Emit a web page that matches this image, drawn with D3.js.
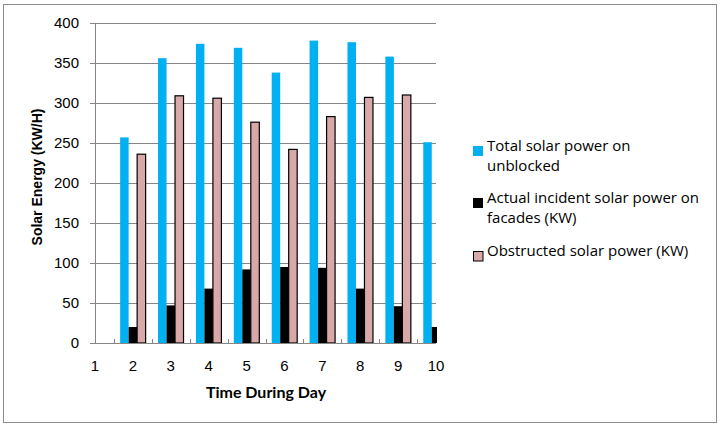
<!DOCTYPE html>
<html>
<head>
<meta charset="utf-8">
<script src="https://cdn.jsdelivr.net/npm/d3@7"></script>
<style>
  body { margin: 0; background: #fff; }
  text { font-family: Arial, "Liberation Sans", sans-serif; }
</style>
</head>
<body>
<div id="chart"></div>
<script>
// data
const categories = [1, 2, 3, 4, 5, 6, 7, 8, 9, 10];
const totalPower = [null, 257, 356, 374, 369, 338, 378, 376, 358, 251];
const actualPower = [null, 20, 47, 68, 92, 95, 94, 68, 46, 20];
const obstructedPower = [null, 236, 309, 306, 276, 242, 283, 307, 310, null];
const yTicks = [0, 50, 100, 150, 200, 250, 300, 350, 400];

const seriesNames = ['total', 'actual', 'obstructed'];
const legendLines = [
  ['Total solar power on', 'unblocked'],
  ['Actual incident solar power on', 'facades (KW)'],
  ['Obstructed solar power  (KW)']
];
const colors = { total: '#00b0f0', actual: '#000000', obstructed: '#d9a9a9' };

const width = 722, height = 429;
const plotLeft = 95, plotRight = 436, plotTop = 23, plotBottom = 343;

const svg = d3.select('#chart').append('svg')
  .attr('width', width)
  .attr('height', height);

// outer frame
svg.append('rect')
  .attr('x', 3.5).attr('y', 4.5)
  .attr('width', 713).attr('height', 418)
  .attr('fill', 'none').attr('stroke', '#8c8c8c');

// first category sits right on the axis, last on the right edge
const step = (plotRight - plotLeft) / (categories.length - 1);
const x = d3.scaleBand()
  .domain(categories)
  .range([plotLeft - step / 2, plotRight + step / 2])
  .padding(0);

const xs = d3.scaleBand()
  .domain(seriesNames)
  .range([0, step])
  .paddingInner(0)
  .paddingOuter(0.73);

const y = d3.scaleLinear().domain([0, 400]).range([plotBottom, plotTop]);

// gridlines + y ticks
svg.append('g')
  .selectAll('line')
  .data(yTicks)
  .enter()
  .append('line')
  .attr('x1', plotLeft - 5)
  .attr('x2', plotRight)
  .attr('y1', d => Math.round(y(d)) + 0.5)
  .attr('y2', d => Math.round(y(d)) + 0.5)
  .attr('stroke', '#868686');

svg.append('g')
  .selectAll('text')
  .data(yTicks)
  .enter()
  .append('text')
  .attr('x', 79)
  .attr('y', d => y(d))
  .attr('dy', '0.36em')
  .attr('text-anchor', 'end')
  .style('font-size', '15px')
  .text(d => d);

// bars, clipped to the plot area
svg.append('clipPath').attr('id', 'plotClip')
  .append('rect')
  .attr('x', plotLeft).attr('y', 0)
  .attr('width', plotRight - plotLeft + 1).attr('height', plotBottom + 1);

const rows = categories.map((c, i) => ({
  cat: c,
  total: totalPower[i],
  actual: actualPower[i],
  obstructed: obstructedPower[i]
}));

const bars = svg.append('g').attr('clip-path', 'url(#plotClip)');

bars.selectAll('g')
  .data(rows)
  .enter()
  .append('g')
  .attr('transform', d => `translate(${x(d.cat)},0)`)
  .selectAll('rect')
  .data(d => seriesNames.map(k => ({ key: k, value: d[k] })).filter(e => e.value != null))
  .enter()
  .append('rect')
  .attr('x', d => xs(d.key))
  .attr('y', d => y(d.value))
  .attr('width', xs.bandwidth())
  .attr('height', d => plotBottom - y(d.value))
  .attr('fill', d => colors[d.key])
  .attr('stroke', d => d.key === 'obstructed' ? '#000' : 'none')
  .attr('stroke-width', 1.2);

// axis lines
svg.append('line')
  .attr('x1', plotLeft + 0.5).attr('x2', plotLeft + 0.5)
  .attr('y1', plotTop).attr('y2', plotBottom)
  .attr('stroke', '#868686');
svg.append('line')
  .attr('x1', plotLeft).attr('x2', plotRight)
  .attr('y1', plotBottom + 0.5).attr('y2', plotBottom + 0.5)
  .attr('stroke', '#868686');

// x ticks between categories
svg.append('g')
  .selectAll('line')
  .data(categories.slice(1))
  .enter()
  .append('line')
  .attr('x1', d => Math.round(x(d)) + 0.5)
  .attr('x2', d => Math.round(x(d)) + 0.5)
  .attr('y1', plotBottom - 4)
  .attr('y2', plotBottom)
  .attr('stroke', '#868686');

svg.append('g')
  .selectAll('text')
  .data(categories)
  .enter()
  .append('text')
  .attr('x', d => x(d) + step / 2)
  .attr('y', 371)
  .attr('text-anchor', 'middle')
  .style('font-size', '15px')
  .text(d => d);

// axis titles
svg.append('text')
  .attr('x', 266)
  .attr('y', 398)
  .attr('text-anchor', 'middle')
  .style('font-family', 'Lato, sans-serif')
  .style('font-weight', 'bold')
  .style('font-size', '16px')
  .text('Time During Day');

svg.append('text')
  .attr('transform', 'translate(42,177) rotate(-90)')
  .attr('text-anchor', 'middle')
  .style('font-weight', 'bold')
  .style('font-size', '14px')
  .text('Solar Energy (KW/H)');

// legend
const legendY = [151, 203, 256];
const legend = svg.append('g');

legend.selectAll('rect')
  .data(seriesNames)
  .enter()
  .append('rect')
  .attr('x', d => d === 'obstructed' ? 473.5 : 473)
  .attr('y', (d, i) => legendY[i] - 5 + (d === 'obstructed' ? 0.5 : 0))
  .attr('width', d => d === 'obstructed' ? 9.5 : 10)
  .attr('height', d => d === 'obstructed' ? 9.5 : 10)
  .attr('fill', d => colors[d])
  .attr('stroke', d => d === 'obstructed' ? '#000' : 'none');

legend.selectAll('text')
  .data(legendLines)
  .enter()
  .append('text')
  .attr('x', 487)
  .attr('y', (d, i) => legendY[i])
  .attr('dy', '0.35em')
  .style('font-family', '"Open Sans", sans-serif')
  .style('font-size', '15px')
  .selectAll('tspan')
  .data(d => d)
  .enter()
  .append('tspan')
  .attr('x', 487)
  .attr('dy', (d, i) => i === 0 ? 0 : 20)
  .text(d => d);
</script>
</body>
</html>
